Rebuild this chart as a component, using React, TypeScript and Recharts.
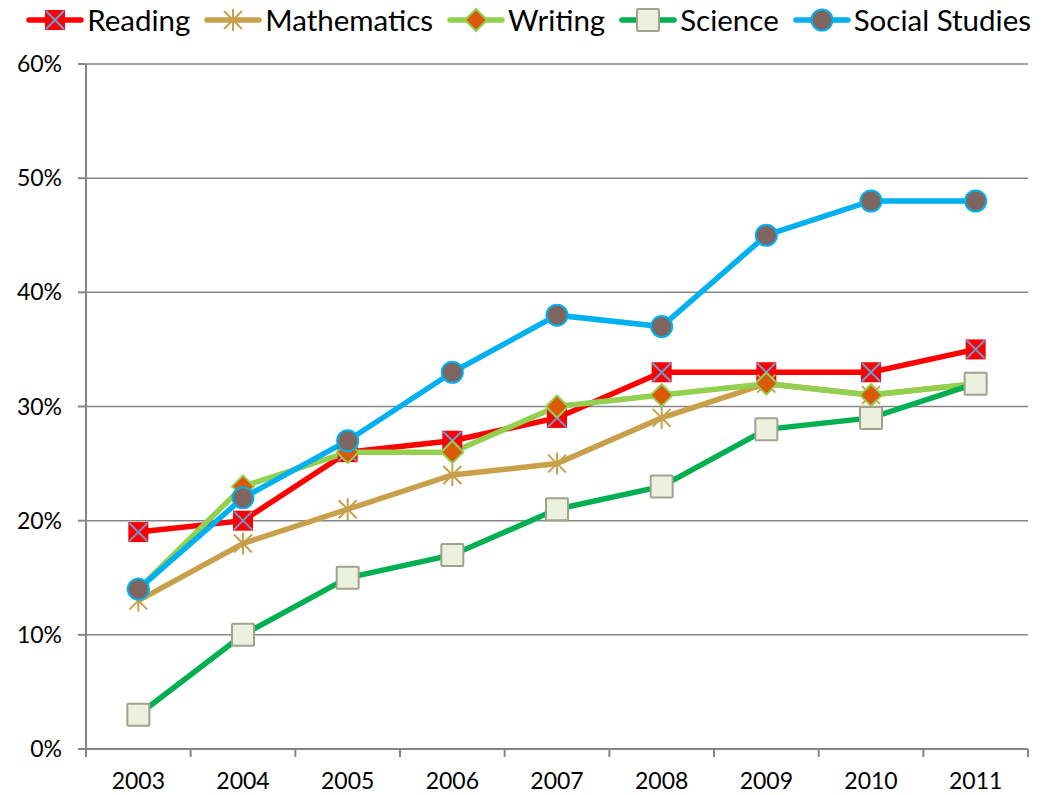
import { CartesianGrid, Legend, Line, LineChart, XAxis, YAxis } from "recharts";

const years = ["2003", "2004", "2005", "2006", "2007", "2008", "2009", "2010", "2011"];
const reading = [19, 20, 26, 27, 29, 33, 33, 33, 35];
const mathematics = [13, 18, 21, 24, 25, 29, 32, 31, 32];
const writing = [14, 23, 26, 26, 30, 31, 32, 31, 32];
const science = [3, 10, 15, 17, 21, 23, 28, 29, 32];
const socialStudies = [14, 22, 27, 33, 38, 37, 45, 48, 48];
const yTicks = [0, 10, 20, 30, 40, 50, 60];

const data = years.map((year, i) => ({
  year,
  reading: reading[i],
  mathematics: mathematics[i],
  writing: writing[i],
  science: science[i],
  social: socialStudies[i],
}));

const W = 1045;
const H = 795;
const M = { top: 32, right: 17, bottom: 6, left: 0 };
const Y_WIDTH = 86;
const BAND = (W - M.left - M.right - Y_WIDTH) / years.length;
const FONT = "Lato, 'Open Sans', sans-serif";
const AXIS = "#868686";

type Marker = "reading" | "math" | "writing" | "science" | "social";

function MarkerShape({ kind, cx, cy }: { kind: Marker; cx: number; cy: number }) {
  if (kind === "reading") {
    return (
      <g>
        <rect x={cx - 10} y={cy - 10} width={20} height={20} fill="#FF0000" />
        <line x1={cx - 9} y1={cy - 9} x2={cx + 9} y2={cy + 9} stroke="#6C9BD2" strokeWidth={2} />
        <line x1={cx - 9} y1={cy + 9} x2={cx + 9} y2={cy - 9} stroke="#6C9BD2" strokeWidth={2} />
      </g>
    );
  }
  if (kind === "math") {
    return (
      <g stroke="#C9A04A" strokeWidth={2}>
        <line x1={cx - 9} y1={cy - 9} x2={cx + 9} y2={cy + 9} />
        <line x1={cx - 9} y1={cy + 9} x2={cx + 9} y2={cy - 9} />
        <line x1={cx} y1={cy - 11} x2={cx} y2={cy + 11} />
      </g>
    );
  }
  if (kind === "writing") {
    return (
      <path
        d={`M${cx},${cy - 11} L${cx + 11},${cy} L${cx},${cy + 11} L${cx - 11},${cy} Z`}
        fill="#DB5A0A"
        stroke="#92D050"
        strokeWidth={2}
      />
    );
  }
  if (kind === "science") {
    return (
      <rect x={cx - 11} y={cy - 11} width={22} height={22} rx={1} fill="#EBF1DE" stroke="#A0A28E" strokeWidth={2} />
    );
  }
  return <circle cx={cx} cy={cy} r={10.5} fill="#7F6560" stroke="#00B0F0" strokeWidth={2} />;
}

const dot = (kind: Marker) => (props: any) => {
  const { cx, cy, index } = props;
  if (cx == null || cy == null) return <g key={index} />;
  return <MarkerShape key={index} kind={kind} cx={cx} cy={cy} />;
};

const series = [
  { key: "reading", name: "Reading", color: "#FF0000", marker: "reading" as Marker },
  { key: "mathematics", name: "Mathematics", color: "#C9A04A", marker: "math" as Marker },
  { key: "writing", name: "Writing", color: "#92D050", marker: "writing" as Marker },
  { key: "science", name: "Science", color: "#00B050", marker: "science" as Marker },
  { key: "social", name: "Social Studies", color: "#00B0F0", marker: "social" as Marker },
];

function LegendContent() {
  return (
    <div style={{ display: "flex", justifyContent: "flex-end", alignItems: "center", gap: 14, fontFamily: FONT, fontSize: 29.5, color: "#000", paddingRight: 14, lineHeight: "32px" }}>
      {series.map((s) => (
        <div key={s.key} style={{ display: "flex", alignItems: "center", gap: 3 }}>
          <svg width={58} height={28}>
            <line x1={3} y1={14} x2={55} y2={14} stroke={s.color} strokeWidth={5.5} strokeLinecap="round" />
            <MarkerShape kind={s.marker} cx={29} cy={14} />
          </svg>
          <span>{s.name}</span>
        </div>
      ))}
    </div>
  );
}

function XTick(props: any) {
  const { x, y, payload, index } = props;
  const axisY = y - 8;
  const left = x - BAND / 2;
  return (
    <g>
      <line x1={left} y1={axisY} x2={left} y2={axisY + 8} stroke={AXIS} strokeWidth={2} />
      {index === years.length - 1 && (
        <line x1={x + BAND / 2} y1={axisY} x2={x + BAND / 2} y2={axisY + 8} stroke={AXIS} strokeWidth={2} />
      )}
      <text x={x} y={axisY + 40} textAnchor="middle" fontFamily={FONT} fontSize={23} fill="#000">
        {payload.value}
      </text>
    </g>
  );
}

export default function App() {
  return (
    <div style={{ position: "absolute", left: 0, top: 0, width: W, height: H, background: "#fff" }}>
      <LineChart width={W} height={H} data={data} margin={M}>
        <Legend verticalAlign="top" content={<LegendContent />} wrapperStyle={{ top: 4, left: 0, width: W }} />
        <CartesianGrid vertical={false} stroke={AXIS} strokeWidth={1.5} />
        <XAxis
          dataKey="year"
          interval={0}
          height={40}
          tickSize={8}
          tickMargin={0}
          tickLine={false}
          padding={{ left: BAND / 2, right: BAND / 2 }}
          axisLine={{ stroke: AXIS, strokeWidth: 2 }}
          tick={<XTick />}
        />
        <YAxis
          width={Y_WIDTH}
          domain={[0, 60]}
          ticks={yTicks}
          tickFormatter={(v) => `${v}%`}
          tickSize={8}
          tickMargin={16}
          axisLine={{ stroke: AXIS, strokeWidth: 2 }}
          tickLine={{ stroke: AXIS, strokeWidth: 2 }}
          tick={{ fontFamily: FONT, fontSize: 23, fill: "#000" }}
        />
        {series.map((s) => (
          <Line
            key={s.key}
            dataKey={s.key}
            name={s.name}
            type="linear"
            stroke={s.color}
            strokeWidth={5.5}
            dot={dot(s.marker)}
            activeDot={false}
            isAnimationActive={false}
          />
        ))}
      </LineChart>
    </div>
  );
}
